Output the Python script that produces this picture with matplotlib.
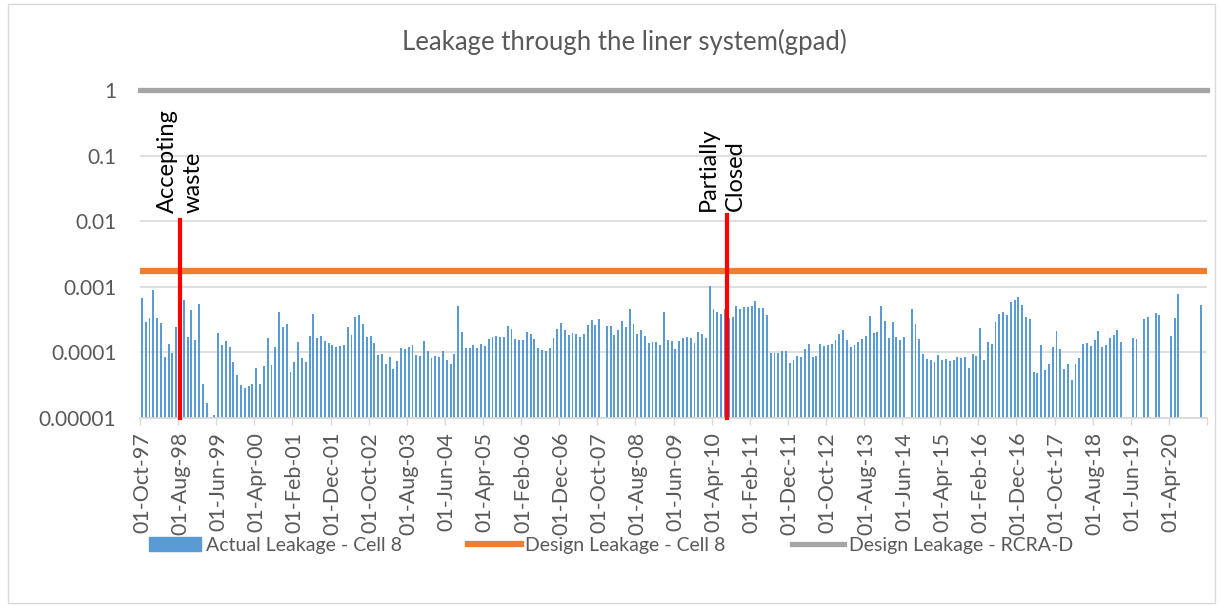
import matplotlib
matplotlib.use("Agg")
import matplotlib.pyplot as plt
import matplotlib.patches as mpatches
from matplotlib.lines import Line2D
import numpy as np
import pandas as pd

plt.rcParams['font.family'] = ['Lato', 'DejaVu Sans']

nan = np.nan
# monthly categories, Oct 1997 .. Jan 2021
months = pd.date_range('1997-10-01', periods=280, freq='MS')
month_labels = [d.strftime('%d-%b-%y') for d in months]

# actual leakage, cell 8 (gpad)
actual_leakage = [
    6.7e-4, 2.9e-4, 3.3e-4, 8.9e-4, 3.4e-4, 2.8e-4, 8.4e-5, 1.35e-4, 9.9e-5, 2.45e-4,
    3.6e-4, 6.2e-4, 1.7e-4, 4.5e-4, 1.54e-4, 5.4e-4, 3.3e-5, 1.67e-5, 1.05e-5, 1.1e-5,
    2.0e-4, 1.29e-4, 1.47e-4, 1.23e-4, 7.2e-5, 4.6e-5, 3.2e-5, 2.9e-5, 3.1e-5, 3.3e-5,
    5.7e-5, 3.3e-5, 6.1e-5, 1.67e-4, 6.35e-5, 1.22e-4, 4.1e-4, 2.45e-4, 2.7e-4, 5.1e-5,
    7.1e-5, 1.45e-4, 8.3e-5, 7.1e-5, 1.8e-4, 3.8e-4, 1.65e-4, 1.8e-4, 1.47e-4, 1.38e-4,
    1.31e-4, 1.2e-4, 1.26e-4, 1.31e-4, 2.4e-4, 1.85e-4, 3.5e-4, 3.7e-4, 2.7e-4, 1.73e-4,
    1.77e-4, 1.37e-4, 9.2e-5, 9.4e-5, 6.65e-5, 8.5e-5, 5.6e-5, 7.5e-5, 1.15e-4, 1.12e-4,
    1.23e-4, 1.29e-4, 9.2e-5, 8.7e-5, 1.49e-4, 1.05e-4, 8.2e-5, 8.7e-5, 8.5e-5, 1.05e-4,
    7.7e-5, 6.65e-5, 9.4e-5, 5.15e-4, 2.03e-4, 1.18e-4, 1.16e-4, 1.29e-4, 1.16e-4, 1.35e-4,
    1.25e-4, 1.61e-4, 1.69e-4, 1.77e-4, 1.71e-4, 1.73e-4, 2.5e-4, 2.28e-4, 1.59e-4, 1.52e-4,
    1.54e-4, 2.06e-4, 1.92e-4, 1.59e-4, 1.18e-4, 1.1e-4, 1.06e-4, 1.15e-4, 1.67e-4, 2.28e-4,
    2.78e-4, 2.21e-4, 1.85e-4, 2.01e-4, 1.92e-4, 1.71e-4, 1.92e-4, 2.6e-4, 3.13e-4, 2.6e-4,
    3.24e-4, nan, 2.54e-4, 2.54e-4, 1.85e-4, 2.21e-4, 3.0e-4, 2.45e-4, 4.54e-4, 2.72e-4,
    1.92e-4, 2.23e-4, 1.77e-4, 1.37e-4, 1.45e-4, 1.45e-4, 1.31e-4, 4.08e-4, 1.56e-4, 1.49e-4,
    1.14e-4, 1.5e-4, 1.63e-4, 1.71e-4, 1.63e-4, 1.4e-4, 2.03e-4, 1.94e-4, 1.67e-4, 1.02e-3,
    4.54e-4, 4.08e-4, 3.85e-4, 4.64e-4, 3.31e-4, 3.47e-4, 5.15e-4, 4.64e-4, 4.86e-4, 4.92e-4,
    5.15e-4, 6.1e-4, 4.81e-4, 4.81e-4, 3.68e-4, 9.9e-5, 9.7e-5, 9.8e-5, 1.05e-4, 1.05e-4,
    6.8e-5, 7.7e-5, 8.8e-5, 8.6e-5, 1.12e-4, 1.35e-4, 8.5e-5, 8.9e-5, 1.35e-4, 1.26e-4,
    1.28e-4, 1.34e-4, 1.54e-4, 1.92e-4, 2.16e-4, 1.54e-4, 1.22e-4, 1.29e-4, 1.45e-4, 1.61e-4,
    1.79e-4, 3.55e-4, 2.01e-4, 2.03e-4, 5.09e-4, 2.98e-4, 1.67e-4, 2.88e-4, 1.73e-4, 1.57e-4,
    1.73e-4, nan, 4.59e-4, 2.75e-4, 1.59e-4, 9.55e-5, 7.9e-5, 7.75e-5, 7.1e-5, 9.0e-5,
    7.6e-5, 7.9e-5, 7.5e-5, 7.75e-5, 8.5e-5, 8.2e-5, 8.5e-5, 5.8e-5, 9.4e-5, 8.7e-5,
    2.36e-4, 7.75e-5, 1.45e-4, 1.32e-4, 2.92e-4, 3.81e-4, 4.13e-4, 3.77e-4, 5.86e-4, 6.2e-4,
    6.97e-4, 5.27e-4, 3.47e-4, 3.2e-4, 4.98e-5, 4.86e-5, 1.31e-4, 5.46e-5, 6.6e-5, 1.23e-4,
    2.13e-4, 1.12e-4, 5.5e-5, 6.65e-5, 3.77e-5, 6.7e-5, 8.2e-5, 1.35e-4, 1.38e-4, 1.26e-4,
    1.54e-4, 2.11e-4, 1.2e-4, 1.31e-4, 1.65e-4, 1.83e-4, 2.18e-4, 1.45e-4, nan, nan,
    1.65e-4, 1.61e-4, nan, 3.2e-4, 3.43e-4, nan, 4.04e-4, 3.77e-4, nan, nan,
    1.79e-4, 3.35e-4, 7.9e-4, nan, nan, nan, nan, nan, 5.2e-4, nan,
]
design_cell8 = 0.00175
design_rcra = 1.0

# event markers: (category position, top of line, label)
events_x = [10, 153.5]
events_top = [0.0105, 0.0125]
events_text = ["Accepting\nwaste", "Partially\nClosed"]
events_text_x = [10, 152.2]
events_text_y = [0.0133, 0.0145]

yticks = [1e-5, 1e-4, 1e-3, 1e-2, 1e-1, 1]
ytick_labels = ["0.00001", "0.0001", "0.001", "0.01", "0.1", "1"]

blue = "#5B9BD5"
orange = "#ED7D31"
gray = "#A5A5A5"
txt = "#595959"

fig = plt.figure(figsize=(12.22, 6.09), dpi=100)
ax = fig.add_axes([140 / 1222, 1 - 418 / 609, 1067 / 1222, 328 / 609])

x = np.arange(len(months))
ax.bar(x, actual_leakage, width=0.5, color=blue, linewidth=0, zorder=2)
ax.axhline(design_cell8, color=orange, lw=4.5, zorder=3)
ax.axhline(design_rcra, color=gray, lw=3.8, zorder=3, clip_on=False)

for ex, et in zip(events_x, events_top):
    ax.plot([ex, ex], [1e-5, et], color="red", lw=3, zorder=4, clip_on=False)
for tx, ty, t in zip(events_text_x, events_text_y, events_text):
    ax.text(tx, ty, t, rotation=90, ha="center", va="bottom", multialignment="left",
            fontsize=17, color="black", linespacing=1.3, zorder=5)

ax.set_yscale("log")
ax.set_ylim(1e-5, 1)
ax.set_xlim(-0.5, len(months) - 0.5)
ax.set_yticks(yticks)
ax.set_yticklabels(ytick_labels)
ax.yaxis.set_minor_locator(matplotlib.ticker.NullLocator())
ax.tick_params(axis="y", length=0, pad=17, labelsize=15, labelcolor=txt)

ax.set_xticks(x[::10])
ax.set_xticklabels(month_labels[::10], rotation=90)
ax.set_xticks(np.arange(-0.5, len(months), 10), minor=True)
ax.tick_params(axis="x", which="major", length=0, pad=10, labelsize=15.5, labelcolor=txt)
ax.tick_params(axis="x", which="minor", length=5, color="#D9D9D9", width=1)

ax.grid(axis="y", which="major", color="#D9D9D9", lw=1.2, zorder=0)
ax.set_axisbelow(True)
for s in ["top", "right", "left"]:
    ax.spines[s].set_visible(False)
ax.spines["bottom"].set_color("#D9D9D9")
ax.spines["bottom"].set_linewidth(1.2)

fig.text(0.511, 1 - 42 / 609, "Leakage through the liner system(gpad)", ha="center", va="center",
         fontsize=18.5, color=txt)

handles = [
    mpatches.Patch(color=blue, label="Actual Leakage - Cell 8"),
    Line2D([], [], color=orange, lw=4.5, label="Design Leakage - Cell 8"),
    Line2D([], [], color=gray, lw=3.8, label="Design Leakage - RCRA-D"),
]
leg = fig.legend(handles=handles, loc="center", bbox_to_anchor=(0.5, 1 - 545 / 609), ncol=3,
                 frameon=False, fontsize=14, handlelength=2.7, handleheight=0.75,
                 handletextpad=0.25, columnspacing=3.4)
for t in leg.get_texts():
    t.set_color(txt)

fig.add_artist(mpatches.Rectangle((8 / 1222, 1 - 603 / 609), 1207 / 1222, 599 / 609,
                                  transform=fig.transFigure, fill=False,
                                  edgecolor="#D9D9D9", lw=1))

fig.savefig("out.png", dpi=100)
